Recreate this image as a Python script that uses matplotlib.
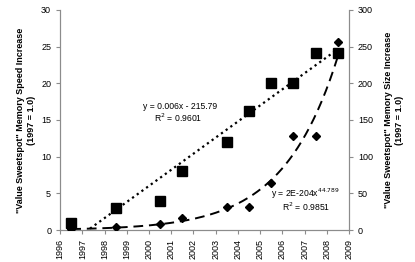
import numpy as np
import matplotlib.pyplot as plt

plt.rcParams['font.family'] = ['Liberation Sans', 'DejaVu Sans']

# data (year, fractional)
years = [1996.5, 1998.5, 2000.5, 2001.5, 2003.5, 2004.5, 2005.5, 2006.5, 2007.5, 2008.5]
speed = [1, 3, 4, 8, 12, 16.2, 20, 20, 24.2, 24.2]
size = [1, 4, 8, 16, 32, 32, 64, 128, 128, 256]

x = np.array(years)
serial = (x - 1900) * 365.25 + 1  # excel-style date serial

fig, ax = plt.subplots(figsize=(4.15, 2.62), dpi=100)
fig.subplots_adjust(left=0.145, right=0.841, top=0.962, bottom=0.122)
ax2 = ax.twinx()

# linear trend on speed
k, b = np.polyfit(x, speed, 1)
xs = np.linspace(1996.5, 2008.5, 200)
ax.plot(xs, k * xs + b, color='black', linestyle=(0, (1, 1.6)), linewidth=1.6)
ax.plot(x, speed, 's', color='black', markersize=6.5, zorder=5)

# power trend on size (fit on the date serial)
p, c = np.polyfit(np.log(serial), np.log(size), 1)
ss = (xs - 1900) * 365.25 + 1
ax2.plot(xs, np.exp(c) * ss ** p, color='black', linestyle=(0, (5, 3)), linewidth=1.4)
ax2.plot(x, size, 'D', color='black', markersize=4.5, zorder=5)

ax.set_xlim(1996, 2009)
ax.set_ylim(0, 30)
ax2.set_ylim(0, 300)
ax.set_xticks(range(1996, 2010))
ax.set_xticklabels([str(t) for t in range(1996, 2010)], rotation=90)
ax.set_yticks(range(0, 31, 5))
ax2.set_yticks(range(0, 301, 50))

for a in (ax, ax2):
    a.spines['top'].set_visible(False)
    for s in ('left', 'right', 'bottom'):
        a.spines[s].set_color('#8c8c8c')
        a.spines[s].set_linewidth(0.8)
    a.tick_params(labelsize=6.5, colors='#8c8c8c', labelcolor='black', length=3, width=0.8)

ax.set_ylabel('"Value Sweetspot" Memory Speed Increase\n(1997 = 1.0)',
              fontsize=6.5, fontweight='bold', linespacing=1.2)
ax2.set_ylabel('"Value Sweetspot" Memory Size Increase\n(1997 = 1.0)',
               fontsize=6.5, fontweight='bold', rotation=90, labelpad=8, linespacing=1.2)

ax.text(2001.4, 16.9, 'y = 0.006x - 215.79', fontsize=6.2, ha='center', va='center')
ax.text(2001.3, 15.3, 'R$^2$ = 0.9601', fontsize=6.2, ha='center', va='center')
ax.text(2007.05, 5.0, 'y = 2E-204x$^{44.789}$', fontsize=6.2, ha='center', va='center')
ax.text(2007.05, 3.2, 'R$^2$ = 0.9851', fontsize=6.2, ha='center', va='center')

fig.savefig('out.png', dpi=100)
